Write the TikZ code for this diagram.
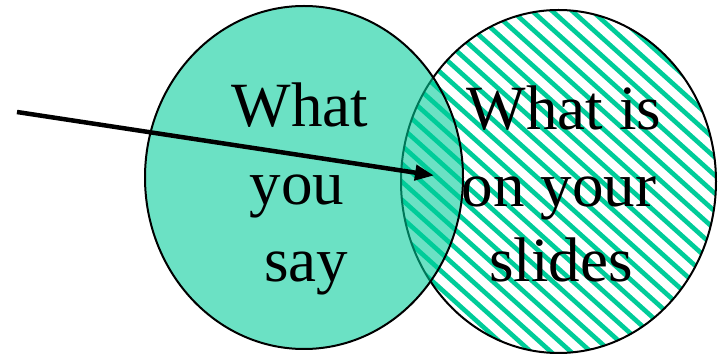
\documentclass[tikz,border=0pt]{standalone}
\usepackage{fontspec}
\setmainfont{Liberation Serif}
\usetikzlibrary{arrows.meta}
\definecolor{vgreen}{RGB}{0,204,153}
\tikzset{
  outline/.style={draw=black,line width=2pt},
  stripe/.style={draw=vgreen,line width=4.6pt},
  bigtext/.style={font=\fontsize{63}{76}\selectfont,inner sep=0pt,anchor=base,text=black},
  pointer/.style={draw=black,line width=4.5pt,-{Triangle[length=19pt,width=15pt]}}
}
\begin{document}
\begin{tikzpicture}[x=1pt,y=-1pt]
\useasboundingbox (0,0) rectangle (721,355);
\coordinate (L) at (304,177.5);
\coordinate (R) at (558.5,181.5);
% right ellipse: striped
\begin{scope}
  \clip (R) ellipse [x radius=157.5, y radius=171.5];
  \foreach \c in {-700,-680,...,1000} {
    \draw[stripe] (\c-100,-90) -- (\c+500,450);
  }
\end{scope}
\draw[outline] (R) ellipse [x radius=157.5, y radius=171.5];
% left ellipse: translucent fill
\fill[vgreen,fill opacity=0.58] (L) ellipse [x radius=159, y radius=171.5];
\draw[outline] (L) ellipse [x radius=159, y radius=171.5];
% texts
\node[bigtext] (l1) at (300,127) {What};
\node[bigtext] (l2) at (297,205) {you};
\node[bigtext] (l3) at (306,282) {say};
\node[bigtext] (r1) at (564,130) {What is};
\node[bigtext] (r2) at (559,207) {on your};
\node[bigtext] (r3) at (561,282) {slides};
% arrow
\coordinate (as) at (17,112);
\coordinate (ae) at (434,175.5);
\draw[pointer] (as) -- (ae);
\end{tikzpicture}
\end{document}
